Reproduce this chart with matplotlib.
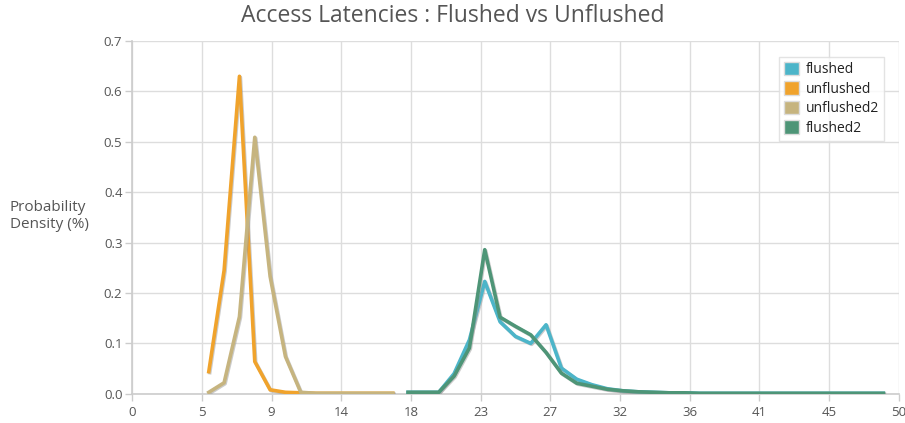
import matplotlib
matplotlib.use('Agg')
import matplotlib.pyplot as plt
import matplotlib.patheffects as pe
from matplotlib.patches import Patch

# ---- data ----
x_unfl = [5, 6, 7, 8, 9, 10, 11, 12, 13, 14, 15, 16, 17]
y_unfl = [0.044, 0.245, 0.630, 0.064, 0.008, 0.003, 0.002, 0.001, 0.001, 0.001, 0.001, 0.001, 0.001]
x_unfl2 = [5, 6, 7, 8, 9, 10, 11, 12, 13, 14, 15, 16, 17]
y_unfl2 = [0.003, 0.022, 0.153, 0.509, 0.233, 0.074, 0.003, 0.001, 0.001, 0.001, 0.001, 0.001, 0.001]
x_fl = list(range(18, 50))
y_fl = [0.003, 0.003, 0.003, 0.040, 0.107, 0.223, 0.143, 0.114, 0.100, 0.137, 0.051, 0.029,
        0.018, 0.010, 0.006, 0.004, 0.003, 0.002, 0.002, 0.001, 0.001, 0.001, 0.001, 0.001,
        0.001, 0.001, 0.001, 0.001, 0.001, 0.001, 0.001, 0.001]
x_fl2 = list(range(18, 50))
y_fl2 = [0.003, 0.003, 0.003, 0.035, 0.091, 0.286, 0.152, 0.134, 0.117, 0.082, 0.041, 0.021,
         0.015, 0.009, 0.006, 0.004, 0.003, 0.002, 0.002, 0.001, 0.001, 0.001, 0.001, 0.001,
         0.001, 0.001, 0.001, 0.001, 0.001, 0.001, 0.001, 0.001]

names = ['flushed', 'unflushed', 'unflushed2', 'flushed2']
colors = ['#4cb5c9', '#f0a32c', '#c6b47f', '#4e9577']
xticks = [0, 50 / 11, 100 / 11, 150 / 11, 200 / 11, 250 / 11, 300 / 11, 350 / 11,
          400 / 11, 450 / 11, 500 / 11, 50]
xtick_labels = ['0', '5', '9', '14', '18', '23', '27', '32', '36', '41', '45', '50']

plt.rcParams['font.family'] = ['Open Sans', 'DejaVu Sans']
txt = '#555555'
grid = '#dddddd'

fig = plt.figure(figsize=(9.05, 4.23), dpi=100)
ax = fig.add_axes([0.146, 0.069, 0.847, 0.834])

shadow = [pe.SimpleLineShadow(offset=(0.7, -0.7), shadow_color='#999999', alpha=0.5), pe.Normal()]
series = [(x_fl, y_fl), (x_unfl, y_unfl), (x_unfl2, y_unfl2), (x_fl2, y_fl2)]
for (xs, ys), c in zip(series, colors):
    ax.plot(xs, ys, color=c, lw=2.6, solid_joinstyle='round', path_effects=shadow, zorder=3)

ax.set_xlim(0, 50)
ax.set_ylim(0, 0.7)
ax.set_xticks(xticks)
ax.set_xticklabels(xtick_labels)
ax.set_yticks([0, 0.1, 0.2, 0.3, 0.4, 0.5, 0.6, 0.7])
ax.set_yticklabels(['0.0', '0.1', '0.2', '0.3', '0.4', '0.5', '0.6', '0.7'])
ax.grid(True, color=grid, lw=1)
ax.set_axisbelow(True)
for s in ['top', 'right']:
    ax.spines[s].set_visible(False)
for s in ['left', 'bottom']:
    ax.spines[s].set_color('#cccccc')
    ax.spines[s].set_linewidth(1.2)
ax.tick_params(colors='#cccccc', labelcolor=txt, labelsize=9.5, length=5, width=1)
ax.tick_params(axis='x', pad=4)
ax.tick_params(axis='y', pad=2)

fig.text(0.5, 0.963, 'Access Latencies : Flushed vs Unflushed', ha='center', va='center',
         fontsize=16.5, color=txt)
fig.text(0.011, 0.49, 'Probability\nDensity (%)', ha='left', va='center',
         fontsize=11, color=txt, linespacing=1.2)

handles = [Patch(facecolor=c, edgecolor='#dddddd', lw=1) for c in colors]
lg = ax.legend(handles, names, loc='upper right', bbox_to_anchor=(0.99, 0.975), fontsize=10,
               frameon=True, fancybox=False, handlelength=1.1, handleheight=1.1,
               handletextpad=0.5, borderpad=0.35, labelspacing=0.3, labelcolor='#222222')
lg.get_frame().set_edgecolor('#dddddd')
lg.get_frame().set_linewidth(1)

fig.savefig('out.png', dpi=100)
